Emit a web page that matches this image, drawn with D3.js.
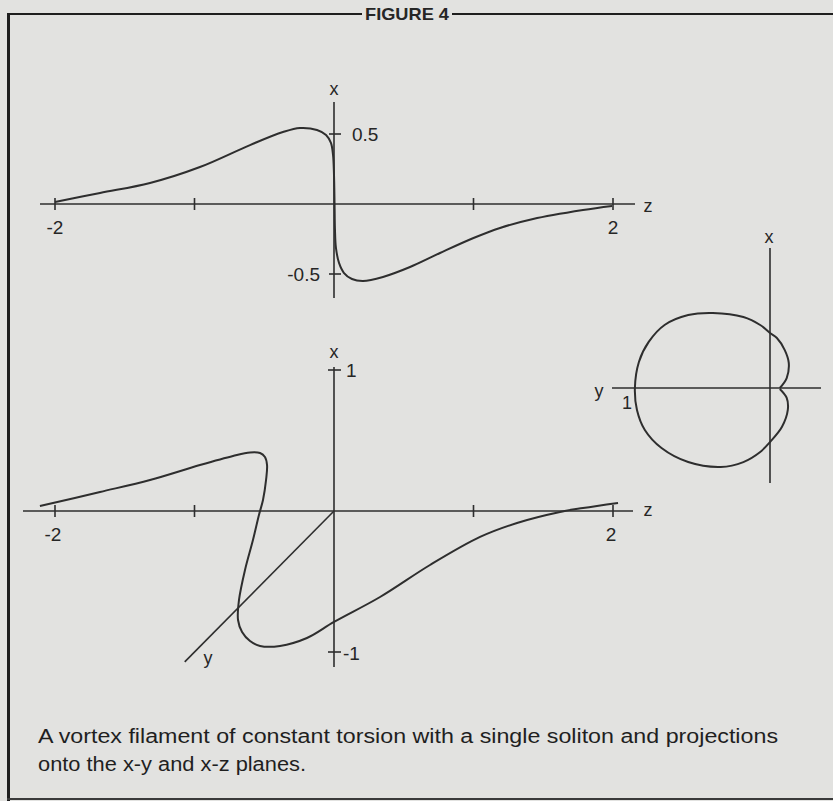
<!DOCTYPE html>
<html><head><meta charset="utf-8">
<script src="https://cdn.jsdelivr.net/npm/d3@7/dist/d3.min.js"></script>
<style>
html,body{margin:0;padding:0;background:#e2e2e0;}
svg{display:block;}
text{font-family:"Liberation Sans",Arial,Helvetica,sans-serif;fill:#262626;}
</style></head><body>
<svg id="fig" width="833" height="801"></svg>
<script>
// Projection of the filament onto the x-z plane: [z, x]
const xzCurve = [
  [-2.0,0.014],[-1.677,0.079],[-1.319,0.15],[-0.961,0.264],[-0.602,0.421],
  [-0.366,0.514],[-0.244,0.543],[-0.122,0.529],[-0.057,0.493],[-0.022,0.436],
  [-0.007,0.35],[0.0,0.207],[0.004,0.0],[0.007,-0.186],[0.014,-0.314],
  [0.036,-0.421],[0.072,-0.493],[0.129,-0.536],[0.208,-0.55],[0.351,-0.521],
  [0.545,-0.45],[0.76,-0.35],[1.0,-0.243],[1.19,-0.171],[1.427,-0.107],
  [1.785,-0.043],[1.993,-0.014]
];
// Oblique view of the filament, projected onto the page: [z, x]
const filamentView = [
  [-2.108,0.035],[-1.677,0.135],[-1.319,0.22],[-0.961,0.326],[-0.724,0.39],
  [-0.602,0.415],[-0.53,0.411],[-0.495,0.383],[-0.48,0.326],[-0.487,0.22],
  [-0.509,0.078],[-0.538,-0.028],[-0.581,-0.206],[-0.638,-0.418],[-0.681,-0.631],
  [-0.688,-0.773],[-0.659,-0.858],[-0.602,-0.922],[-0.53,-0.957],[-0.387,-0.957],
  [-0.194,-0.901],[0.0,-0.787],[0.33,-0.61],[0.688,-0.383],[1.047,-0.184],
  [1.312,-0.085],[1.62,-0.007],[1.785,0.021],[2.036,0.057]
];
// Projection onto the x-y plane: [y, x]
const xyCurve = [
  [-0.071,0.0],[-0.121,0.071],[-0.136,0.179],[-0.107,0.271],[-0.05,0.357],
  [0.0,0.393],[0.071,0.45],[0.193,0.507],[0.414,0.536],[0.593,0.521],
  [0.764,0.45],[0.879,0.329],[0.95,0.186],[0.979,0.0],[0.964,-0.157],
  [0.907,-0.3],[0.786,-0.429],[0.593,-0.529],[0.357,-0.564],[0.193,-0.529],
  [0.071,-0.457],[0.0,-0.386],[-0.086,-0.279],[-0.129,-0.157],[-0.121,-0.071],
  [-0.071,-0.007]
];
const zTicks = [-2, -1, 1, 2];
const zTickLabels = [-2, 2];
const xzTicks = [0.5, -0.5];
const viewXTicks = [1, -1];
const xyTickLabels = [1];
// page direction of the oblique y axis, in (z, x) units per unit of y
const yAxisDir = [-1.07, -1.07];
const captionLines = [
  "A vortex filament of constant torsion with a single soliton and projections",
  "onto the x-y and x-z planes."
];

const svg = d3.select("#fig");
const ink = "#2e2e2e";
const fmt = d => (d < 0 ? "-" : "") + Math.abs(d);

// frame and heading
svg.append("line").attr("x1",8.5).attr("x2",8.5).attr("y1",14).attr("y2",801)
  .attr("stroke","#1e1e1e").attr("stroke-width",3);
svg.append("line").attr("x1",7).attr("x2",362).attr("y1",14).attr("y2",14)
  .attr("stroke","#1e1e1e").attr("stroke-width",2);
svg.append("line").attr("x1",452).attr("x2",833).attr("y1",14).attr("y2",14)
  .attr("stroke","#1e1e1e").attr("stroke-width",2);
svg.append("line").attr("x1",7).attr("x2",833).attr("y1",799).attr("y2",799)
  .attr("stroke","#3a3a3a").attr("stroke-width",2);
svg.append("text").attr("x",407).attr("y",20).attr("text-anchor","middle")
  .style("font-size","17px").style("font-weight","bold").attr("textLength",84)
  .attr("lengthAdjust","spacingAndGlyphs").text("FIGURE 4");

const lineStyle = sel => sel.attr("fill","none").attr("stroke",ink);

function label(x, y, txt, anchor, size) {
  svg.append("text").attr("x",x).attr("y",y).attr("text-anchor",anchor||"middle")
    .attr("dominant-baseline","central").style("font-size",(size||19)+"px").text(txt);
}

// ---- x-z plane ----
const zT = d3.scaleLinear().domain([-2,2]).range([55,613]);
const xT = d3.scaleLinear().domain([-0.5,0.5]).range([274,134]);
const gT = svg.append("g");
gT.append("line").attr("x1",40).attr("x2",635).attr("y1",xT(0)).attr("y2",xT(0))
  .call(lineStyle).attr("stroke-width",1.6);
gT.append("line").attr("x1",zT(0)).attr("x2",zT(0)).attr("y1",102).attr("y2",298)
  .call(lineStyle).attr("stroke-width",1.6);
zTicks.forEach(t => gT.append("line").attr("x1",zT(t)).attr("x2",zT(t))
  .attr("y1",xT(0)-6).attr("y2",xT(0)+6).call(lineStyle).attr("stroke-width",1.6));
xzTicks.forEach(t => gT.append("line").attr("x1",zT(0)-5).attr("x2",zT(0)+7)
  .attr("y1",xT(t)).attr("y2",xT(t)).call(lineStyle).attr("stroke-width",1.6));
zTickLabels.forEach(t => label(zT(t), xT(0)+23, fmt(t)));
label(zT(0)+18, xT(0.5), "0.5", "start");
label(zT(0)-14, xT(-0.5), "-0.5", "end");
label(zT(0), 89, "x", "middle", 18);
label(648, xT(0)+2, "z", "middle", 18);
gT.append("path").datum(xzCurve)
  .attr("d", d3.line().x(d => zT(d[0])).y(d => xT(d[1])).curve(d3.curveCatmullRom.alpha(0.5)))
  .call(lineStyle).attr("stroke-width",2);

// ---- oblique view ----
const zB = d3.scaleLinear().domain([-2,2]).range([55,613]);
const xB = d3.scaleLinear().domain([-1,1]).range([652,370]);
const gB = svg.append("g");
gB.append("line").attr("x1",23).attr("x2",633).attr("y1",xB(0)).attr("y2",xB(0))
  .call(lineStyle).attr("stroke-width",1.6);
gB.append("line").attr("x1",zB(0)).attr("x2",zB(0)).attr("y1",367).attr("y2",667)
  .call(lineStyle).attr("stroke-width",1.6);
gB.append("line").attr("x1",zB(0)).attr("y1",xB(0))
  .attr("x2",zB(yAxisDir[0])).attr("y2",xB(yAxisDir[1]))
  .call(lineStyle).attr("stroke-width",1.6);
zTicks.forEach(t => gB.append("line").attr("x1",zB(t)).attr("x2",zB(t))
  .attr("y1",xB(0)-6).attr("y2",xB(0)+6).call(lineStyle).attr("stroke-width",1.6));
viewXTicks.forEach(t => gB.append("line").attr("x1",zB(0)-6).attr("x2",zB(0)+7)
  .attr("y1",xB(t)).attr("y2",xB(t)).call(lineStyle).attr("stroke-width",1.6));
zTickLabels.forEach(t => label(zB(t)-2, xB(0)+23, fmt(t)));
label(zB(0)+12, xB(1), "1", "start");
label(zB(0)+9, xB(-1)+1, "-1", "start");
label(zB(0), 352, "x", "middle", 18);
label(648, xB(0)-1, "z", "middle", 18);
label(208, 658, "y", "middle", 18);
gB.append("path").datum(filamentView)
  .attr("d", d3.line().x(d => zB(d[0])).y(d => xB(d[1])).curve(d3.curveCatmullRom.alpha(0.5)))
  .call(lineStyle).attr("stroke-width",2);

// ---- x-y plane ----
const yC = d3.scaleLinear().domain([0,1]).range([770,632]);
const xC = d3.scaleLinear().domain([-0.5,0.5]).range([458,318]);
const gC = svg.append("g");
gC.append("line").attr("x1",612).attr("x2",821).attr("y1",xC(0)).attr("y2",xC(0))
  .call(lineStyle).attr("stroke-width",1.6);
gC.append("line").attr("x1",yC(0)).attr("x2",yC(0)).attr("y1",248).attr("y2",483)
  .call(lineStyle).attr("stroke-width",1.6);
xyTickLabels.forEach(t => label(yC(t)-5, xC(0)+15, fmt(t), "middle", 18));
label(769, 237, "x", "middle", 18);
label(599, xC(0)+3, "y", "middle", 18);
gC.append("path").datum(xyCurve)
  .attr("d", d3.line().x(d => yC(d[0])).y(d => xC(d[1])).curve(d3.curveCatmullRom.alpha(0.5)))
  .call(lineStyle).attr("stroke-width",2);

// caption
captionLines.forEach((t, i) => {
  const tx = svg.append("text").attr("x",38).attr("y",743 + i*28)
    .style("font-size","20px").style("fill","#1f1f1f").text(t);
  if (i === 0) tx.attr("textLength",740).attr("lengthAdjust","spacingAndGlyphs");
  else tx.attr("textLength",268).attr("lengthAdjust","spacingAndGlyphs");
});
</script>
</body></html>
